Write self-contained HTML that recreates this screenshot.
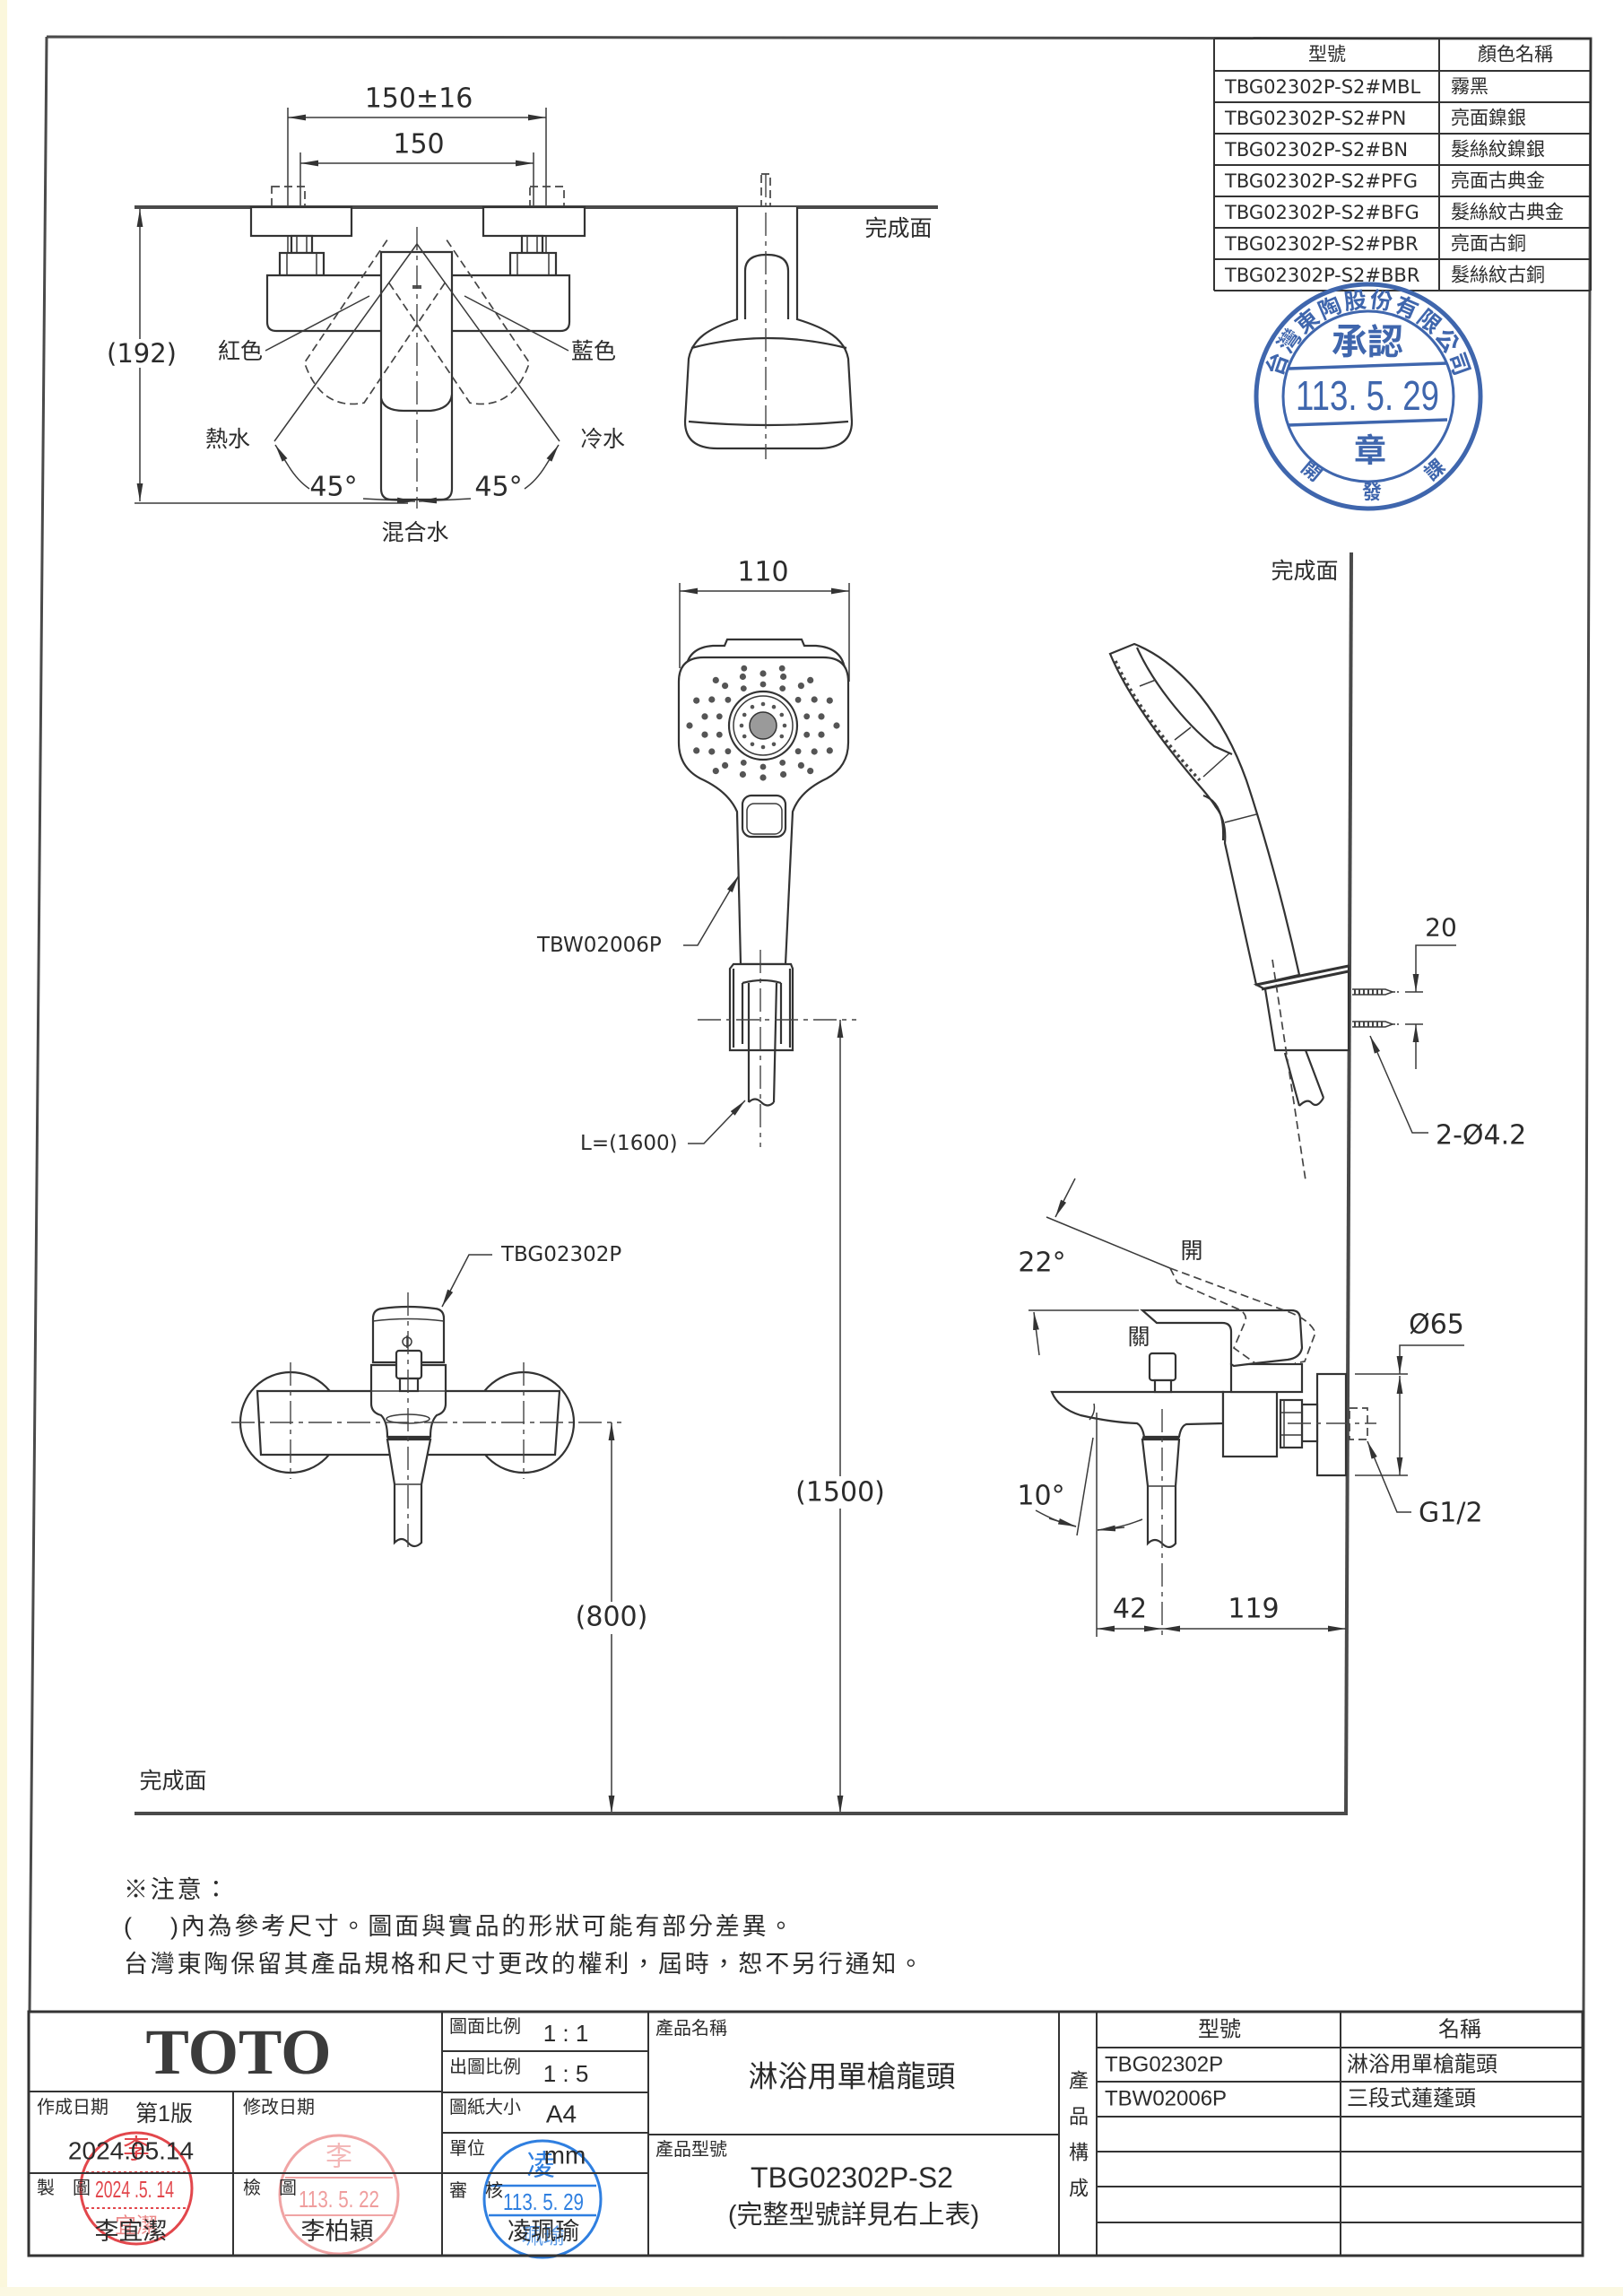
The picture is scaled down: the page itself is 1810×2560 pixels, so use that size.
<!DOCTYPE html>
<html><head><meta charset="utf-8">
<style>
html,body{margin:0;padding:0;background:#fff;}
svg{display:block;}
text{font-family:"Liberation Sans","Noto Sans CJK TC",sans-serif;fill:#2b2b2b;}
.dj{font-family:"DejaVu Sans","Noto Sans CJK TC",sans-serif;}
.o{stroke:#333;stroke-width:2.2;fill:none;}
.of{stroke:#333;stroke-width:2.2;fill:#fff;}
.t{stroke:#3a3a3a;stroke-width:1.5;fill:none;}
.c{stroke:#444;stroke-width:1.4;fill:none;stroke-dasharray:26 6 5 6;}
.d{stroke:#444;stroke-width:1.7;fill:none;stroke-dasharray:9 5;}
.w{stroke:#4a4a4a;stroke-width:4;fill:none;}
.g{stroke:#333;stroke-width:2;fill:none;}
.dot{fill:#555;}
</style></head><body>
<svg width="1810" height="2560" viewBox="0 0 1810 2560" xmlns="http://www.w3.org/2000/svg">
<defs>
<marker id="a" viewBox="0 0 20 8" refX="20" refY="4" markerWidth="20" markerHeight="8" markerUnits="userSpaceOnUse" orient="auto-start-reverse"><path d="M0,0.6 L20,4 L0,7.4 Z" fill="#333"/></marker>
</defs>
<rect width="1810" height="2560" fill="#fff"/>
<rect x="0" y="0" width="8" height="2560" fill="#fbf7dc"/>
<rect x="0" y="2550" width="1810" height="10" fill="#fbf8e2"/>

<!-- FRAME -->
<path class="w" style="stroke-width:3" d="M52,41 L1774,43 L1765,2515 M52,41 L33,2243"/>

<!-- TOP RIGHT TABLE -->
<g class="g">
<path d="M1354,43 V324 M1605,43 V324 M1774,43 V324"/>
<path d="M1354,43 H1774 M1354,79 H1774 M1354,114 H1774 M1354,149 H1774 M1354,184 H1774 M1354,219 H1774 M1354,254 H1774 M1354,289 H1774 M1354,324 H1774"/>
</g>
<g font-size="21" dominant-baseline="central">
<text x="1480" y="61" text-anchor="middle">型號</text>
<text x="1690" y="61" text-anchor="middle">顏色名稱</text>
<g class="dj">
<text x="1366" y="97" class="dj">TBG02302P-S2#MBL</text>
<text x="1366" y="132" class="dj">TBG02302P-S2#PN</text>
<text x="1366" y="167" class="dj">TBG02302P-S2#BN</text>
<text x="1366" y="202" class="dj">TBG02302P-S2#PFG</text>
<text x="1366" y="237" class="dj">TBG02302P-S2#BFG</text>
<text x="1366" y="272" class="dj">TBG02302P-S2#PBR</text>
<text x="1366" y="307" class="dj">TBG02302P-S2#BBR</text>
</g>
<text x="1618" y="97">霧黑</text>
<text x="1618" y="132">亮面鎳銀</text>
<text x="1618" y="167">髮絲紋鎳銀</text>
<text x="1618" y="202">亮面古典金</text>
<text x="1618" y="237">髮絲紋古典金</text>
<text x="1618" y="272">亮面古銅</text>
<text x="1618" y="307">髮絲紋古銅</text>
</g>

<!-- BIG STAMP -->
<g stroke="#3f66ad" fill="none">
<circle cx="1526" cy="442" r="125" stroke-width="5"/>
<circle cx="1526" cy="442" r="95" stroke-width="3"/>
<path d="M1437,411 L1614,405 M1437,474 L1614,468" stroke-width="3.5"/>
</g>
<path id="arcT" d="M1428.5,424.8 A99,99 0 0 1 1623.5,424.8" fill="none"/>
<g fill="#3f66ad" font-weight="bold">
<text font-size="25" style="fill:#3f66ad"><textPath href="#arcT" startOffset="4" textLength="268" lengthAdjust="spacing">台灣東陶股份有限公司</textPath></text>
<text x="1525" y="382" font-size="40" text-anchor="middle" dominant-baseline="central" style="fill:#3f66ad">承認</text>
<text x="1525" y="441" font-size="46" text-anchor="middle" dominant-baseline="central" textLength="160" lengthAdjust="spacingAndGlyphs" style="fill:#3f66ad;font-weight:normal">113. 5. 29</text>
<text x="1528" y="502" font-size="36" text-anchor="middle" dominant-baseline="central" style="fill:#3f66ad">章</text>
<text x="1463" y="525" font-size="22" text-anchor="middle" dominant-baseline="central" transform="rotate(40 1463 525)" style="fill:#3f66ad">開</text>
<text x="1530" y="549" font-size="22" text-anchor="middle" dominant-baseline="central" style="fill:#3f66ad">發</text>
<text x="1600" y="524" font-size="22" text-anchor="middle" dominant-baseline="central" transform="rotate(-40 1600 524)" style="fill:#3f66ad">課</text>
</g>

<!-- TOP-LEFT PLAN VIEW -->
<path class="t" d="M321,120 V306 M609,120 V306 M335,170 V231 M595,170 V231"/>
<line class="t" x1="321" y1="131" x2="609" y2="131" marker-start="url(#a)" marker-end="url(#a)"/>
<line class="t" x1="335" y1="182" x2="595" y2="182" marker-start="url(#a)" marker-end="url(#a)"/>
<text class="dj" x="467" y="110" font-size="30" text-anchor="middle" dominant-baseline="central">150±16</text>
<text class="dj" x="467" y="161" font-size="30" text-anchor="middle" dominant-baseline="central">150</text>
<line class="w" x1="150" y1="231" x2="1046" y2="231"/>
<rect class="d" x="303" y="208" width="37" height="23"/>
<rect class="d" x="591" y="208" width="38" height="23"/>
<rect class="of" x="280" y="231" width="112" height="32"/>
<rect class="of" x="539" y="231" width="113" height="32"/>
<rect class="of" x="325" y="263" width="23" height="19"/>
<rect class="of" x="582" y="263" width="23" height="19"/>
<path class="t" d="M331,263 V282 M342,263 V282 M588,263 V282 M599,263 V282"/>
<rect class="of" x="312" y="282" width="49" height="25"/>
<rect class="of" x="569" y="282" width="51" height="25"/>
<path class="t" d="M320,282 V307 M353,282 V307 M577,282 V307 M612,282 V307"/>
<path class="of" d="M298,307 L635,307 L635,359 Q635,369 625,369 L308,369 Q298,369 298,359 Z"/>
<path class="of" d="M425,281 L504,281 L504,545 Q504,557 492,557 L437,557 Q425,557 425,545 Z"/>
<path class="o" d="M425,444 Q428,458 450,458 L480,458 Q502,456 504,440"/>
<rect x="460" y="318" width="10" height="4" fill="#555"/>
<path class="d" d="M431.8,267.6 L339.6,404.4 Q358,458 406,449.2 L498.2,312.4"/>
<path class="d" d="M498.2,267.6 L590.4,404.4 Q572,458 524,449.2 L431.8,312.4"/>
<path class="c" d="M465,253 V567"/>
<path class="t" d="M465,272 L306,492 M465,272 L624,492"/>
<path class="t" d="M322,520 L307,496" marker-end="url(#a)"/>
<path class="t" d="M608,520 L623,496" marker-end="url(#a)"/>
<path class="t" d="M405,556 L463,559" marker-end="url(#a)"/>
<path class="t" d="M525,556 L467,559" marker-end="url(#a)"/>
<path class="t" d="M322,520 Q332,536 345,545 M608,520 Q598,536 585,545"/>
<path class="t" d="M296,391 L412,330 M634,391 L518,330"/>
<text x="268" y="392" font-size="25" text-anchor="middle" dominant-baseline="central">紅色</text>
<text x="662" y="392" font-size="25" text-anchor="middle" dominant-baseline="central">藍色</text>
<text x="254" y="490" font-size="25" text-anchor="middle" dominant-baseline="central">熱水</text>
<text x="672" y="490" font-size="25" text-anchor="middle" dominant-baseline="central">冷水</text>
<text class="dj" x="372" y="543" font-size="30" text-anchor="middle" dominant-baseline="central">45°</text>
<text class="dj" x="556" y="543" font-size="30" text-anchor="middle" dominant-baseline="central">45°</text>
<text x="463" y="594" font-size="25" text-anchor="middle" dominant-baseline="central">混合水</text>
<line class="t" x1="156" y1="233" x2="156" y2="559" marker-start="url(#a)" marker-end="url(#a)"/>
<line class="t" x1="150" y1="561" x2="455" y2="561"/>
<rect x="126" y="378" width="62" height="32" fill="#fff"/>
<text class="dj" x="158" y="394" font-size="29" text-anchor="middle" dominant-baseline="central">(192)</text>

<!-- top side view -->
<rect class="d" x="849" y="194" width="10" height="37"/>
<path class="of" d="M822,231 L822,356 C790,366 772,378 768,400 L764,470 Q764,500 800,500 L912,500 Q950,500 950,470 L946,400 C942,378 922,366 889,356 L889,231"/>
<path class="o" d="M831,356 L831,302 Q831,284 855,284 Q879,284 879,302 L879,356"/>
<path class="o" d="M771,388 Q855,366 944,388 M768,470 Q855,478 946,470"/>
<path class="c" d="M854,194 V512"/>
<text x="1002" y="255" font-size="25" text-anchor="middle" dominant-baseline="central">完成面</text>

<!-- SHOWER HEAD FRONT -->
<path class="t" d="M758,650 V745 M947,650 V760"/>
<line class="t" x1="758" y1="659" x2="947" y2="659" marker-start="url(#a)" marker-end="url(#a)"/>
<text class="dj" x="851" y="638" font-size="30" text-anchor="middle" dominant-baseline="central">110</text>
<path class="o" d="M765,745 Q768,722 795,720 L808,720 L811,713 L894,713 L897,720 L910,720 Q938,722 942,745"/>
<path class="of" d="M757,760 Q757,733 785,733 L918,733 Q946,733 946,760 L946,828 Q946,855 922,868 Q892,882 884,905 L876,1075 L826,1075 L822,905 Q812,882 781,868 Q757,855 757,828 Z"/>
<rect class="o" x="828" y="887" width="48" height="46" rx="10"/>
<rect class="t" x="833" y="896" width="39" height="34" rx="8"/>
<circle class="o" cx="851" cy="809" r="38"/>
<circle class="t" cx="851" cy="809" r="33"/>
<circle cx="851" cy="809" r="15" fill="#9a9a9a" stroke="#333" stroke-width="1.5"/>
<g class="dot">
<circle cx="875" cy="809" r="2.3"/><circle cx="871.8" cy="821" r="2.3"/><circle cx="863" cy="829.8" r="2.3"/><circle cx="851" cy="833" r="2.3"/><circle cx="839" cy="829.8" r="2.3"/><circle cx="830.2" cy="821" r="2.3"/><circle cx="827" cy="809" r="2.3"/><circle cx="830.2" cy="797" r="2.3"/><circle cx="839" cy="788.2" r="2.3"/><circle cx="851" cy="785" r="2.3"/><circle cx="863" cy="788.2" r="2.3"/><circle cx="871.8" cy="797" r="2.3"/>
<circle cx="899.7" cy="819.2" r="3.4"/><circle cx="890.1" cy="837.7" r="3.4"/><circle cx="872.7" cy="850.4" r="3.4"/><circle cx="851" cy="855" r="3.4"/><circle cx="829.3" cy="850.4" r="3.4"/><circle cx="811.9" cy="837.7" r="3.4"/><circle cx="802.3" cy="819.2" r="3.4"/><circle cx="802.3" cy="798.8" r="3.4"/><circle cx="811.9" cy="780.3" r="3.4"/><circle cx="829.3" cy="767.6" r="3.4"/><circle cx="851" cy="763" r="3.4"/><circle cx="872.7" cy="767.6" r="3.4"/><circle cx="890.1" cy="780.3" r="3.4"/><circle cx="899.7" cy="798.8" r="3.4"/>
<circle cx="916" cy="819.1" r="3.6"/><circle cx="908.2" cy="838" r="3.6"/><circle cx="893.4" cy="853.4" r="3.6"/><circle cx="873.6" cy="863.5" r="3.6"/><circle cx="851" cy="867" r="3.6"/><circle cx="828.4" cy="863.5" r="3.6"/><circle cx="808.6" cy="853.4" r="3.6"/><circle cx="793.8" cy="838" r="3.6"/><circle cx="786" cy="819.1" r="3.6"/>
<circle cx="916" cy="798.9" r="3.6"/><circle cx="908.2" cy="780" r="3.6"/><circle cx="893.4" cy="764.6" r="3.6"/><circle cx="873.6" cy="754.5" r="3.6"/><circle cx="851" cy="751" r="3.6"/><circle cx="828.4" cy="754.5" r="3.6"/><circle cx="808.6" cy="764.6" r="3.6"/><circle cx="793.8" cy="780" r="3.6"/><circle cx="786" cy="798.9" r="3.6"/>
<circle cx="933" cy="809" r="3.6"/><circle cx="925.3" cy="836.9" r="3.6"/><circle cx="925.3" cy="781.1" r="3.6"/><circle cx="903.7" cy="859.6" r="3.6"/><circle cx="903.7" cy="758.4" r="3.6"/>
<circle cx="769" cy="809" r="3.6"/><circle cx="776.7" cy="836.9" r="3.6"/><circle cx="776.7" cy="781.1" r="3.6"/><circle cx="798.3" cy="859.6" r="3.6"/><circle cx="798.3" cy="758.4" r="3.6"/>
<circle cx="872.2" cy="745.2" r="3.4"/><circle cx="829.8" cy="745.2" r="3.4"/>
</g>
<!-- holder -->
<path class="of" d="M814,1080 L818,1075 L882,1075 L884,1080 L884,1171 L814,1171 Z"/>
<path class="o" d="M828,1096 Q851,1090 871,1096 M828,1096 V1164 M871,1096 V1164 M818,1080 V1168 M881,1080 V1168"/>
<path class="o" d="M835,1096 L835,1229 M866,1096 L863,1229 M835,1229 Q842,1222 849,1229 Q856,1236 863,1229"/>
<path class="c" d="M848,1059 V1279"/>
<path class="c" d="M778,1137 H955"/>
<line class="t" x1="937" y1="1137" x2="937" y2="2022" marker-start="url(#a)" marker-end="url(#a)"/>
<rect x="890" y="1646" width="94" height="36" fill="#fff"/>
<text class="dj" x="937" y="1664" font-size="30" text-anchor="middle" dominant-baseline="central">(1500)</text>
<path class="t" d="M762,1054 L778,1054 L824,976" marker-end="url(#a)"/>
<text class="dj" x="599" y="1054" font-size="23" dominant-baseline="central">TBW02006P</text>
<path class="t" d="M767,1275 L785,1275 L831,1227" marker-end="url(#a)"/>
<text class="dj" x="647" y="1275" font-size="23" dominant-baseline="central">L=(1600)</text>

<!-- SHOWER SIDE VIEW -->
<line class="w" x1="1507" y1="616" x2="1501" y2="2024"/>
<text x="1455" y="637" font-size="25" text-anchor="middle" dominant-baseline="central">完成面</text>
<path class="of" d="M1238,729 L1265,718 C1320,740 1365,800 1390,870 C1410,930 1432,1010 1449,1087 L1401,1098 L1366,940 Q1368,915 1356,900 Q1350,890 1334,872 C1290,820 1255,770 1238,729 Z"/>
<path d="M1244,737 C1262,777 1296,824 1338,870" stroke="#444" stroke-width="3.5" fill="none" stroke-dasharray="3 4"/>
<path class="o" d="M1268,722 C1285,760 1320,805 1354,832 L1374,841 M1342,887 Q1366,895 1364,937"/>
<path class="t" d="M1271,765 L1289,758 M1310,825 L1328,811 M1342,866 L1372,839 M1366,917 L1401,908"/>
<path class="of" d="M1401,1098 L1504,1077 L1504,1171 L1422,1171 L1411,1103 Z"/>
<path d="M1401,1098 L1504,1077 M1407,1103 L1504,1083" stroke="#333" stroke-width="3" fill="none"/>
<path class="o" d="M1433,1174 L1449,1233 M1456,1171 L1476,1224 M1449,1233 Q1458,1224 1463,1230 Q1469,1236 1476,1224"/>
<path class="d" d="M1419,1070 L1456,1316"/>
<path class="t" d="M1508,1103 H1545 L1553,1106 L1545,1109 H1508 M1508,1139 H1545 L1553,1142 L1545,1145 H1508"/>
<path d="M1510,1106 H1545 M1510,1142 H1545" stroke="#444" stroke-width="5" stroke-dasharray="2 3" fill="none"/>
<path class="t" d="M1553,1106 H1560 M1553,1142 H1560" stroke-dasharray="3 2"/>
<path class="t" d="M1567,1106 H1587 M1567,1142 H1587"/>
<path class="t" d="M1624,1054 H1579 V1106" marker-end="url(#a)"/>
<path class="t" d="M1579,1192 V1142" marker-end="url(#a)"/>
<text class="dj" x="1607" y="1034" font-size="28" text-anchor="middle" dominant-baseline="central">20</text>
<path class="t" d="M1593,1263 H1575 L1528,1155" marker-end="url(#a)"/>
<text class="dj" x="1601" y="1266" font-size="30" dominant-baseline="central">2-Ø4.2</text>

<!-- FRONT FAUCET VIEW (bottom left) -->
<circle class="of" cx="324" cy="1586" r="56"/>
<circle class="of" cx="584" cy="1586" r="56"/>
<path class="of" d="M287,1551 L624,1551 L619,1622 L291,1622 Z"/>
<path class="of" d="M414,1522 L497,1522 L497,1565 Q497,1575 487,1578 Q480,1585 480,1602 L432,1602 Q432,1585 425,1578 Q414,1575 414,1565 Z"/>
<path class="t" d="M414,1551 H497"/>
<ellipse class="t" cx="455" cy="1582" rx="24" ry="5"/>
<path class="of" d="M416,1519 L416,1470 Q416,1460 426,1459 Q455,1455 485,1459 Q495,1460 495,1470 L495,1519 Z"/>
<path class="t" d="M416,1473 Q455,1468 495,1473"/>
<rect class="of" x="442" y="1506" width="28" height="31" rx="3"/>
<rect class="of" x="446" y="1537" width="20" height="14"/>
<circle class="t" cx="454" cy="1496" r="5"/><path class="t" d="M454,1489 V1503"/>
<path d="M432,1603.5 H480" stroke="#333" stroke-width="4"/>
<path class="of" d="M432,1605 L440,1655 L440,1720 Q448,1712 455,1720 Q462,1728 470,1720 L470,1655 L480,1605 Z"/>
<path class="t" d="M440,1655 H470"/>
<path class="c" d="M455,1441 V1729"/>
<path class="c" d="M258,1586 H693"/>
<path class="c" d="M324,1519 V1649 M584,1519 V1649"/>
<path class="t" d="M549,1399 L523,1399 L493,1457" marker-end="url(#a)"/>
<text class="dj" x="559" y="1399" font-size="23" dominant-baseline="central">TBG02302P</text>
<line class="t" x1="682" y1="1586" x2="682" y2="2022" marker-start="url(#a)" marker-end="url(#a)"/>
<rect x="640" y="1786" width="84" height="36" fill="#fff"/>
<text class="dj" x="682" y="1803" font-size="30" text-anchor="middle" dominant-baseline="central">(800)</text>
<line class="w" x1="150" y1="2022" x2="1503" y2="2022"/>
<text x="193" y="1986" font-size="25" text-anchor="middle" dominant-baseline="central">完成面</text>

<!-- SIDE FAUCET VIEW (bottom right) -->
<rect class="of" x="1469" y="1532" width="32" height="113"/>
<rect class="of" x="1452" y="1566" width="17" height="41"/>
<rect class="of" x="1428" y="1561" width="24" height="53"/>
<path class="t" d="M1428,1575 H1452 M1428,1600 H1452 M1432,1561 V1614"/>
<path class="of" d="M1173,1552 L1364,1552 L1364,1587 L1323,1588 Q1317,1590 1315,1602 L1276,1602 Q1274,1590 1268,1587 Q1240,1586 1205,1578 Q1180,1570 1173,1552 Z"/>
<rect class="of" x="1364" y="1552" width="60" height="72"/>
<path class="t" d="M1215,1583 Q1222,1575 1220,1565"/>
<path d="M1274,1603.5 H1315" stroke="#333" stroke-width="4"/>
<path class="of" d="M1274,1605 L1280,1657 L1280,1721 Q1288,1713 1296,1721 Q1304,1729 1311,1721 L1311,1657 L1315,1605 Z"/>
<path class="t" d="M1280,1657 H1311"/>
<rect class="of" x="1373" y="1521" width="79" height="31"/>
<rect class="of" x="1282" y="1509" width="29" height="30" rx="3"/>
<rect class="of" x="1288" y="1539" width="18" height="13"/>
<path class="of" d="M1274,1461 L1440,1461 Q1450,1461 1450,1471 L1452,1503 Q1450,1514 1436,1516 L1400,1520 L1376,1523 L1373,1521 L1373,1485 Q1373,1475 1363,1475 L1290,1475 Z"/>
<path class="d" d="M1305,1414 L1432,1461 Q1460,1470 1467,1486 L1455,1518 L1444,1520 M1305,1414 L1313,1430 L1384,1461 Q1392,1468 1388,1475 L1376,1503 L1400,1520"/>
<path class="t" d="M1167,1357 L1305,1414"/>
<path class="t" d="M1199,1314 L1177,1357" marker-end="url(#a)"/>
<path class="t" d="M1147,1461 H1270"/>
<path class="t" d="M1159,1511 L1153,1463" marker-end="url(#a)"/>
<text class="dj" x="1162" y="1408" font-size="30" text-anchor="middle" dominant-baseline="central">22°</text>
<text x="1329" y="1395" font-size="25" text-anchor="middle" dominant-baseline="central">開</text>
<text x="1270" y="1491" font-size="25" text-anchor="middle" dominant-baseline="central">關</text>
<rect class="d" x="1505" y="1570" width="20" height="35"/>
<path class="c" d="M1436,1587 H1535"/>
<path class="t" d="M1511,1532 H1570 M1511,1645 H1570"/>
<path class="t" d="M1633,1500 H1561 V1532" marker-end="url(#a)"/>
<line class="t" x1="1561" y1="1534" x2="1561" y2="1645" marker-start="url(#a)" marker-end="url(#a)"/>
<text class="dj" x="1602" y="1477" font-size="30" text-anchor="middle" dominant-baseline="central">Ø65</text>
<path class="t" d="M1574,1686 H1558 L1525,1607" marker-end="url(#a)"/>
<text class="dj" x="1582" y="1687" font-size="30" dominant-baseline="central">G1/2</text>
<path class="t" d="M1201,1712 L1219,1603"/>
<path class="t" d="M1155,1684 Q1180,1698 1200,1702"/>
<path class="t" d="M1170,1693 L1200,1702" marker-end="url(#a)"/>
<path class="t" d="M1274,1694 Q1250,1704 1224,1706"/>
<path class="t" d="M1254,1703 L1224,1706" marker-end="url(#a)"/>
<text class="dj" x="1161" y="1668" font-size="30" text-anchor="middle" dominant-baseline="central">10°</text>
<path class="t" d="M1223,1575 V1825"/>
<path class="c" d="M1296,1571 V1825"/>
<line class="t" x1="1223" y1="1816" x2="1296" y2="1816" marker-start="url(#a)" marker-end="url(#a)"/>
<line class="t" x1="1296" y1="1816" x2="1501" y2="1816" marker-start="url(#a)" marker-end="url(#a)"/>
<text class="dj" x="1260" y="1794" font-size="30" text-anchor="middle" dominant-baseline="central">42</text>
<text class="dj" x="1398" y="1794" font-size="30" text-anchor="middle" dominant-baseline="central">119</text>

<!-- NOTES -->
<g font-size="27" style="letter-spacing:2.8px" dominant-baseline="central">
<text x="138" y="2107">※注意：</text>
<text x="138" y="2148">(</text>
<text x="190" y="2148">)內為參考尺寸。圖面與實品的形狀可能有部分差異。</text>
<text x="138" y="2190">台灣東陶保留其產品規格和尺寸更改的權利，屆時，恕不另行通知。</text>
</g>

<!-- TITLE BLOCK STAMPS -->
<g fill="none" stroke-width="3">
<circle cx="152" cy="2440" r="62" stroke="#e2474c"/>
<path d="M96,2422 H208 M96,2462 H208" stroke="#e2474c" stroke-width="2" stroke-dasharray="3 3"/>
<circle cx="378" cy="2447" r="66" stroke="#f0a4a4"/>
<path d="M318,2428 H438 M318,2470 H438" stroke="#f0a4a4" stroke-width="2"/>
<circle cx="605" cy="2452" r="65" stroke="#2f7fe0"/>
<path d="M545,2437 H665 M545,2470 H665" stroke="#2f7fe0" stroke-width="2.5"/>
</g>
<g text-anchor="middle" dominant-baseline="central">
<text x="152" y="2397" font-size="30" style="fill:#e2474c">李</text>
<text x="150" y="2441" font-size="26" textLength="88" lengthAdjust="spacingAndGlyphs" style="fill:#e2474c">2024 .5. 14</text>
<text x="152" y="2482" font-size="24" style="fill:#ec8a8a">宜潔</text>
<text x="378" y="2405" font-size="30" style="fill:#f3b8b8">李</text>
<text x="378" y="2452" font-size="26" textLength="90" lengthAdjust="spacingAndGlyphs" style="fill:#ef9d9d">113. 5. 22</text>
<text x="603" y="2414" font-size="32" style="fill:#2f7fe0">凌</text>
<text x="606" y="2455" font-size="26" textLength="90" lengthAdjust="spacingAndGlyphs" style="fill:#2f7fe0">113. 5. 29</text>
<text x="606" y="2494" font-size="24" style="fill:#5b9ae6">珮瑜</text>
</g>

<!-- TITLE BLOCK -->
<g class="g">
<rect x="32" y="2243" width="1733" height="272" stroke-width="3"/>
<path d="M493,2243 V2515 M723,2243 V2515 M1181,2243 V2515 M1223,2243 V2515 M1495,2243 V2515 M260,2332 V2515"/>
<path d="M32,2332 H493 M32,2423 H723 M493,2287 H723 M493,2333 H723 M493,2378 H723 M723,2380 H1181"/>
<path d="M1223,2283 H1765 M1223,2321 H1765 M1223,2360 H1765 M1223,2399 H1765 M1223,2438 H1765 M1223,2478 H1765"/>
</g>
<text x="266" y="2312" font-size="72" font-weight="bold" text-anchor="middle" textLength="207" lengthAdjust="spacingAndGlyphs" style="font-family:'Liberation Serif',serif;fill:#3b3b3b">TOTO</text>
<g font-size="20" dominant-baseline="central">
<text x="501" y="2260">圖面比例</text>
<text x="501" y="2305">出圖比例</text>
<text x="501" y="2350">圖紙大小</text>
<text x="501" y="2396">單位</text>
<text x="501" y="2443">審　核</text>
<text x="41" y="2350">作成日期</text>
<text x="271" y="2350">修改日期</text>
<text x="41" y="2440">製　圖</text>
<text x="271" y="2440">檢　圖</text>
<text x="731" y="2262">產品名稱</text>
<text x="731" y="2397">產品型號</text>
</g>
<g dominant-baseline="central" text-anchor="middle">
<text x="631" y="2267" font-size="26">1 : 1</text>
<text x="631" y="2312" font-size="26">1 : 5</text>
<text x="626" y="2357" font-size="28">A4</text>
<text x="630" y="2403" font-size="28">mm</text>
<text x="183" y="2357" font-size="25">第1版</text>
<text x="146" y="2398" font-size="28">2024.05.14</text>
<text x="146" y="2488" font-size="27">李宜潔</text>
<text x="376" y="2488" font-size="27">李柏穎</text>
<text x="606" y="2488" font-size="27">凌珮瑜</text>
<text x="950" y="2315" font-size="33">淋浴用單槍龍頭</text>
<text x="950" y="2428" font-size="32">TBG02302P-S2</text>
<text x="952" y="2470" font-size="29">(完整型號詳見右上表)</text>
<text x="1203" y="2320" font-size="22">產</text>
<text x="1203" y="2360" font-size="22">品</text>
<text x="1203" y="2400" font-size="22">構</text>
<text x="1203" y="2440" font-size="22">成</text>
<text x="1360" y="2263" font-size="24">型號</text>
<text x="1628" y="2263" font-size="24">名稱</text>
</g>
<g dominant-baseline="central" font-size="24">
<text x="1232" y="2302">TBG02302P</text>
<text x="1232" y="2340">TBW02006P</text>
<text x="1502" y="2302">淋浴用單槍龍頭</text>
<text x="1502" y="2340">三段式蓮蓬頭</text>
</g>
</svg>
</body></html>
